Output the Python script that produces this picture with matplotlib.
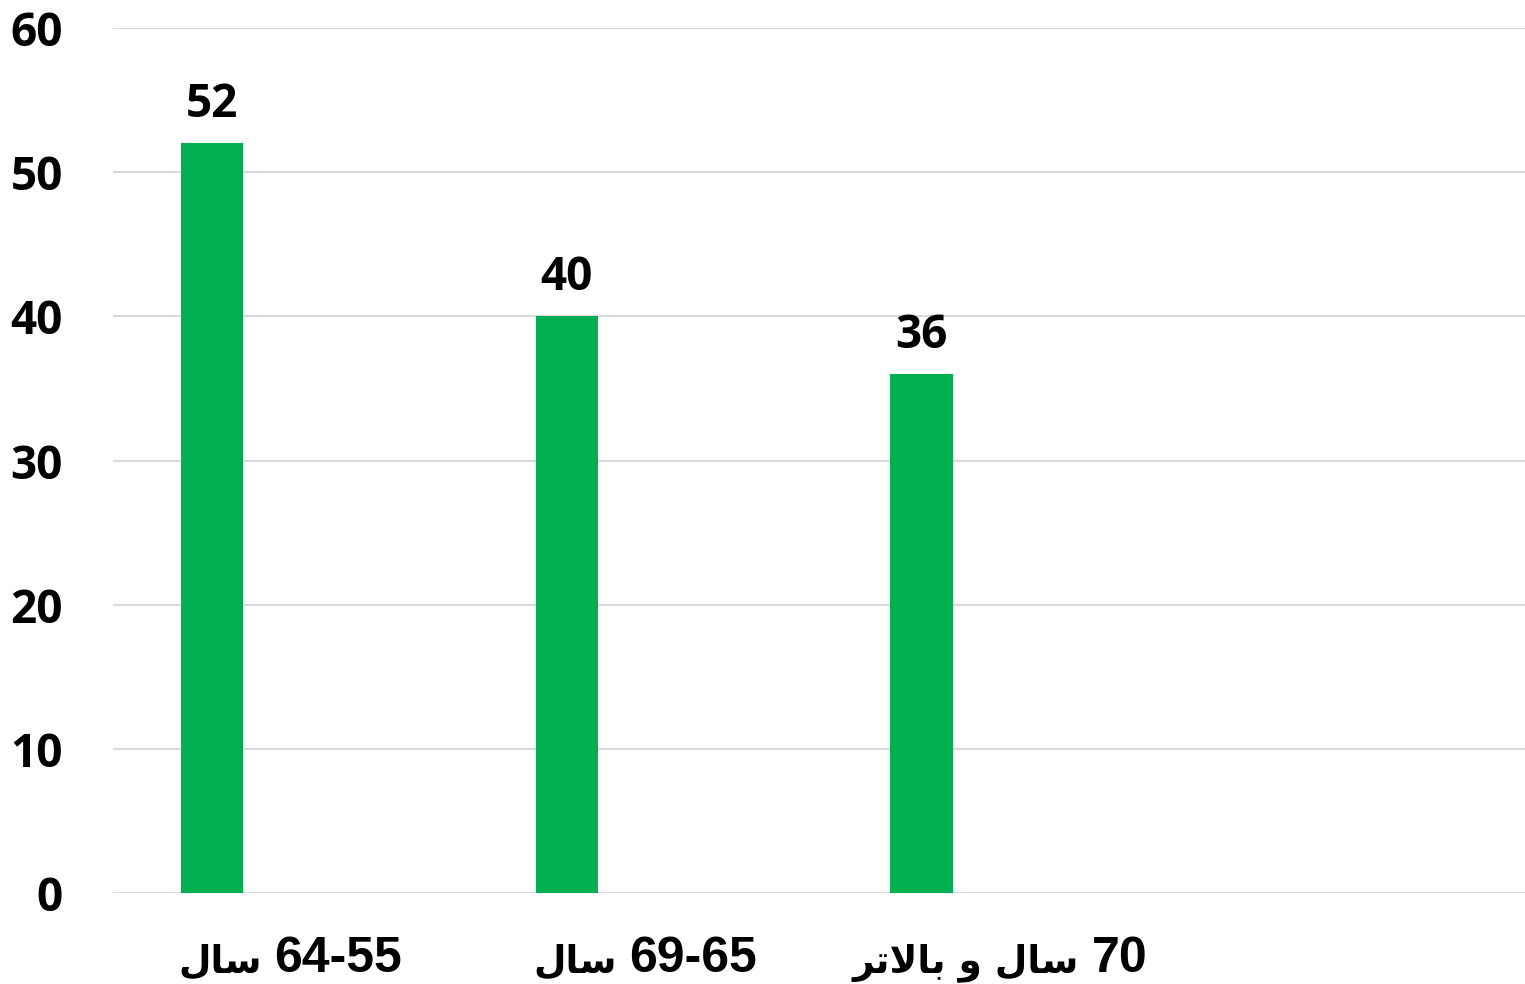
import matplotlib
matplotlib.use("Agg")
import matplotlib.pyplot as plt
from matplotlib.offsetbox import TextArea, HPacker, AnnotationBbox

# Persian words in visual (left-to-right) order with presentation forms,
# since matplotlib does no Arabic shaping or bidi on its own
SAL = "\uFEDD\uFE8E\uFEB3"                      # سال
VA = "\uFEED"                                   # و
BALATAR = "\uFEAE\uFE97\uFEFB\uFE8E\uFE91"      # بالاتر

# each category label: (persian part, number part), drawn left to right
CATEGORIES = [(SAL, "64-55"), (SAL, "69-65"), (BALATAR + " " + VA + " " + SAL, "70")]
VALUES = [52, 40, 36]
Y_TICKS = [0, 10, 20, 30, 40, 50, 60]

GREEN = "#00B050"
GRID = "#D9D9D9"
NUM_FONT = ["Open Sans", "DejaVu Sans"]
LBL_FONT = ["Liberation Sans", "DejaVu Sans"]

fig = plt.figure(figsize=(15.25, 9.84), dpi=100)
ax = fig.add_axes([0.0741, 0.0925, 0.9305, 0.879])

pos = list(range(len(VALUES)))
offset = -0.221
bars = ax.bar([p + offset for p in pos], VALUES, width=0.175, color=GREEN, zorder=3)

for b, v in zip(bars, VALUES):
    ax.text(b.get_x() + b.get_width() / 2, v + 1.8, str(v), ha="center", va="baseline",
            fontsize=33, fontweight="bold", family=NUM_FONT)

ax.set_xlim(-0.5, 3.5)
ax.set_ylim(0, 60)
ax.set_yticks(Y_TICKS)
ax.set_yticklabels([str(t) for t in Y_TICKS], fontsize=33, fontweight="bold", family=NUM_FONT)
ax.set_xticks([])

# category labels: persian word(s) in DejaVu Sans, numbers in Liberation Sans
for p, (fa, num) in zip(pos, CATEGORIES):
    parts = [
        TextArea(fa, textprops=dict(fontsize=27, fontweight="bold", family=["DejaVu Sans"])),
        TextArea(num, textprops=dict(fontsize=36, fontweight="bold", family=LBL_FONT)),
    ]
    box = HPacker(children=parts, align="baseline", pad=0, sep=9)
    ab = AnnotationBbox(box, (p, 0), xycoords=("data", "axes fraction"),
                        xybox=(0, -31), boxcoords="offset points",
                        box_alignment=(0.5, 1), frameon=False, pad=0)
    ax.add_artist(ab)

ax.grid(axis="y", color=GRID, linewidth=1.5, zorder=0)
ax.tick_params(axis="both", length=0)
ax.tick_params(axis="y", pad=36)
for s in ax.spines.values():
    s.set_visible(False)

fig.savefig("out.png", dpi=100)
